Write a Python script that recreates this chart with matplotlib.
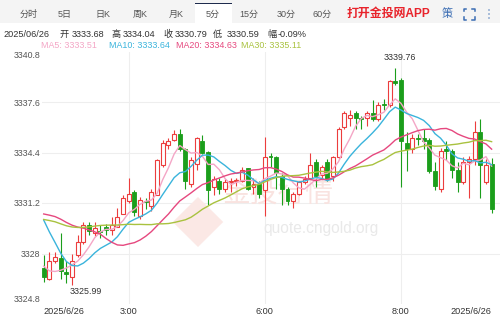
import matplotlib
matplotlib.use("Agg")
import matplotlib.pyplot as plt
import numpy as np
from matplotlib.patches import Rectangle, Polygon

plt.rcParams['font.family'] = ['Liberation Sans', 'Noto Sans CJK SC', 'DejaVu Sans']

W, H = 500, 315

# ---------------- data ----------------
opens = [3327.1, 3326.4, 3327.5, 3327.7, 3326.8, 3326.5, 3327.9, 3328.7, 3329.8, 3329.3,
         3329.4, 3329.7, 3329.5, 3329.7, 3330.5, 3331.3, 3331.9, 3330.4, 3331.3, 3331.0,
         3331.7, 3333.6, 3334.9, 3335.2, 3335.6, 3334.6, 3332.4, 3333.7, 3335.1, 3334.4,
         3332.2, 3332.6, 3332.1, 3332.5, 3332.6, 3332.6, 3333.4, 3332.2, 3332.4, 3332.0,
         3334.2, 3334.1, 3332.9, 3332.1, 3331.3, 3331.8, 3332.5, 3332.8, 3333.8, 3333.0,
         3333.8, 3332.9, 3334.1, 3336.0, 3336.6, 3336.9, 3336.6, 3336.6, 3336.9, 3336.5,
         3337.5, 3337.4, 3338.9, 3339.0, 3335.0, 3334.6, 3335.3, 3335.3, 3335.2, 3333.2,
         3332.1, 3334.6, 3334.5, 3333.3, 3332.5, 3333.8, 3334.0, 3335.7, 3332.5, 3333.68]
highs = [3327.9, 3328.1, 3328.1, 3329.3, 3327.5, 3328.0, 3329.2, 3330.0, 3330.0, 3330.0,
         3329.8, 3329.9, 3330.3, 3330.9, 3331.7, 3332.8, 3332.0, 3331.6, 3331.5, 3332.1,
         3334.0, 3335.2, 3335.3, 3335.8, 3335.9, 3334.7, 3334.1, 3335.4, 3335.5, 3334.5,
         3332.9, 3332.8, 3332.7, 3332.8, 3332.8, 3333.5, 3333.4, 3332.8, 3332.6, 3335.4,
         3334.4, 3334.2, 3333.1, 3332.2, 3331.9, 3332.6, 3332.9, 3334.4, 3334.0, 3333.6,
         3334.0, 3334.2, 3336.0, 3337.0, 3337.1, 3337.0, 3336.7, 3337.0, 3337.7, 3337.6,
         3337.8, 3339.0, 3339.76, 3339.1, 3335.7, 3335.6, 3335.6, 3335.9, 3335.3, 3333.8,
         3334.7, 3335.1, 3334.6, 3333.8, 3334.1, 3334.2, 3336.4, 3336.5, 3334.0, 3334.04]
lows = [3326.2, 3326.3, 3327.4, 3326.4, 3326.1, 3325.99, 3327.8, 3328.6, 3329.2, 3329.1,
        3329.0, 3329.2, 3329.2, 3329.7, 3330.5, 3331.2, 3330.4, 3330.2, 3330.8, 3330.7,
        3331.7, 3333.5, 3334.6, 3335.1, 3334.5, 3332.1, 3332.2, 3333.3, 3334.3, 3331.1,
        3331.7, 3331.8, 3331.9, 3331.9, 3332.3, 3332.5, 3332.0, 3331.8, 3331.5, 3330.4,
        3333.5, 3332.1, 3331.1, 3331.1, 3330.9, 3331.7, 3332.4, 3332.7, 3332.2, 3332.7,
        3332.6, 3332.6, 3334.0, 3335.9, 3336.1, 3335.9, 3335.9, 3336.1, 3336.4, 3336.4,
        3337.1, 3337.3, 3338.7, 3332.2, 3333.2, 3334.4, 3334.9, 3334.6, 3333.1, 3332.0,
        3331.9, 3333.9, 3332.8, 3331.9, 3332.4, 3331.5, 3333.6, 3331.5, 3332.4, 3330.59]
closes = [3326.5, 3327.5, 3327.8, 3326.9, 3326.7, 3327.5, 3328.7, 3329.8, 3329.4, 3329.6,
          3329.35, 3329.5, 3329.8, 3330.3, 3331.5, 3331.8, 3330.6, 3331.4, 3331.25, 3331.9,
          3333.9, 3335.0, 3335.1, 3335.6, 3334.6, 3332.6, 3333.9, 3335.3, 3334.4, 3332.0,
          3332.7, 3332.1, 3332.5, 3332.6, 3332.65, 3333.3, 3332.1, 3332.4, 3331.8, 3334.1,
          3334.1, 3333.1, 3332.1, 3331.3, 3331.8, 3332.5, 3332.7, 3333.6, 3332.9, 3333.5,
          3332.7, 3334.1, 3335.9, 3336.9, 3336.8, 3336.6, 3336.55, 3336.9, 3336.5, 3337.4,
          3337.4, 3338.9, 3338.8, 3335.1, 3334.6, 3335.3, 3335.25, 3335.1, 3333.2, 3332.3,
          3334.5, 3334.5, 3333.3, 3332.5, 3333.8, 3334.0, 3335.7, 3333.6, 3333.6, 3330.79]
# closes before the visible window (used only for the moving averages)
prev_closes = [3329.5, 3330.2, 3330.8, 3330.4, 3329.8, 3329.6, 3329.7, 3328.5, 3328.0, 3328.1,
               3329.0, 3329.6, 3330.2, 3330.8, 3331.0, 3331.1, 3331.2, 3331.6, 3332.0, 3332.4,
               3335.0, 3334.5, 3333.7, 3332.0, 3330.0, 3329.0, 3328.0, 3326.5, 3326.0]

ma_periods = [5, 10, 20, 30]
ma_colors = ['#f4a6c6', '#3ab4dc', '#e6487f', '#a9c23f']
ma_labels = ["MA5: 3333.51", "MA10: 3333.64", "MA20: 3334.63", "MA30: 3335.11"]

ytick_values = [3324.8, 3328.0, 3331.2, 3334.4, 3337.6, 3340.8]
ytick_labels = ["3324.8", "3328", "3331.2", "3334.4", "3337.6", "3340.8"]
xtick_pos = [0, 15, 39, 63, 79]
xtick_labels = ["2025/6/26", "3:00", "6:00", "8:00", "2025/6/26"]

tabs = ["分时", "5日", "日K", "周K", "月K", "5分", "15分", "30分", "60分"]
info_tokens = ["2025/06/26", "开", "3333.68", "高", "3334.04", "收", "3330.79", "低", "3330.59", "幅", "-0.09%"]
high_label = "3339.76"
low_label = "3325.99"

RED = '#ec3d3d'
GREEN = '#1b9e1b'

# ---------------- figure ----------------
fig = plt.figure(figsize=(W / 100, H / 100), dpi=100)
fig.patch.set_facecolor('white')


def fx(px):
    return px / W


def fy(py):
    return 1 - py / H


# tab bar
fig.patches.append(Rectangle((0, fy(22.5)), 1, 22.5 / H, transform=fig.transFigure,
                             facecolor='#f4f4f4', edgecolor='none', zorder=0))
fig.patches.append(Rectangle((fx(195), fy(22.5)), 37 / W, 19.5 / H, transform=fig.transFigure,
                             facecolor='white', edgecolor='none', zorder=1))
fig.patches.append(Rectangle((fx(195), fy(4.3)), 37 / W, 1.5 / H, transform=fig.transFigure,
                             facecolor='#1e2b4d', edgecolor='none', zorder=2))
tab_x = [29, 65, 103, 140, 176, 213, 249, 286, 322]
for t, x in zip(tabs, tab_x):
    fig.text(fx(x), fy(14), t, ha='center', va='center', fontsize=6.5,
             color='#555555', zorder=3)
fig.text(fx(388), fy(14), "打开金投网APP", ha='center', va='center', fontsize=8.6,
         fontweight='bold', color='#e8232b', zorder=3)
fig.text(fx(447), fy(14), "策", ha='center', va='center', fontsize=8,
         color='#3b6db3', zorder=3)
# fullscreen icon (corner brackets)
cx, cy, s, k = 469, 14, 5.5, 2.8
for sx in (-1, 1):
    for sy in (-1, 1):
        xs = [cx + sx * s, cx + sx * s, cx + sx * (s - k)]
        ys = [cy + sy * (s - k), cy + sy * s, cy + sy * s]
        fig.lines.append(plt.Line2D([fx(v) for v in xs], [fy(v) for v in ys],
                                    transform=fig.transFigure, color='#3b6db3', lw=1.1))
for dy in (-4, 0, 4):
    fig.patches.append(plt.Circle((fx(489), fy(14 + dy)), 0.9 / W, transform=fig.transFigure,
                                  facecolor='#3b6db3', edgecolor='none'))

# info line
info_x = [3, 60, 72, 111, 123, 163, 175, 213, 227, 267, 278]
for t, x in zip(info_tokens, info_x):
    fig.text(fx(x), fy(34.3), t, ha='left', va='center', fontsize=6.6, color='#333333')
ma_x = [40.7, 109.3, 175.7, 240.7]
for t, x, c in zip(ma_labels, ma_x, ma_colors):
    fig.text(fx(x), fy(45.7), t, ha='left', va='center', fontsize=6.4, color=c)

# ---------------- axes ----------------
ax_left, ax_right, ax_top, ax_bottom = 42, 500, 51.5, 304
ax = fig.add_axes([fx(ax_left), fy(ax_bottom), (ax_right - ax_left) / W, (ax_bottom - ax_top) / H])
ax.set_facecolor('none')
step = 5.67
x0 = 43.7
ax.set_xlim((ax_left - x0) / step, (ax_right - x0) / step)
ax.set_ylim(ytick_values[0], ytick_values[-1])
for sp in ax.spines.values():
    sp.set_visible(False)

# grid
for v in ytick_values[1:-1]:
    ax.axhline(v, color='#eeeeee', lw=0.8, zorder=0)
for p in xtick_pos[1:-1]:
    ax.axvline(p, color='#eeeeee', lw=0.8, zorder=0)

# watermark
ax.text(0.514, 0.438, "金投行情", transform=ax.transAxes, ha='center', va='center',
        fontsize=20, color='#f9e3e0', zorder=0.5, family=['Noto Sans CJK SC'])
ax.text(0.484, 0.300, "quote.cngold.org", transform=ax.transAxes, ha='left', va='center',
        fontsize=11.2, color='#e9e9e9', zorder=0.5)
dx, dyc, r = (198 - ax_left) / (ax_right - ax_left), (ax_bottom - 222) / (ax_bottom - ax_top), 0.055
ax.add_patch(Polygon([[dx - r, dyc], [dx, dyc + r * 1.8], [dx + r, dyc], [dx, dyc - r * 1.8]],
                     closed=True, transform=ax.transAxes, facecolor='#fbe8e5',
                     edgecolor='none', zorder=0.4))

# candles
o = np.array(opens)
h = np.array(highs)
l = np.array(lows)
c = np.array(closes)
idx = np.arange(len(c))
up = c >= o
bw = 0.7
top = np.maximum(o, c)
bot = np.minimum(o, c)
for i in idx:
    col = RED if up[i] else GREEN
    if up[i]:
        ax.vlines(i, top[i], h[i], color=col, lw=0.8, zorder=2)
        ax.vlines(i, l[i], bot[i], color=col, lw=0.8, zorder=2)
    else:
        ax.vlines(i, l[i], h[i], color=col, lw=0.8, zorder=2)
ax.bar(idx[up], (top - bot)[up], bottom=bot[up], width=bw, facecolor='white',
       edgecolor=RED, linewidth=0.8, zorder=3)
ax.bar(idx[~up], np.maximum((top - bot)[~up], 0.04), bottom=bot[~up], width=bw,
       facecolor=GREEN, edgecolor=GREEN, linewidth=0.6, zorder=3)

# moving averages
all_c = np.array(prev_closes + closes)
npre = len(prev_closes)
for n, col in zip(ma_periods, ma_colors):
    ma = np.array([all_c[npre + i - n + 1: npre + i + 1].mean() for i in idx])
    ax.plot(idx, ma, color=col, lw=1.0, zorder=4)

# high / low labels
hi = int(np.argmax(h))
lo = int(np.argmin(l))
ax.annotate(high_label, (hi, h[hi]), xytext=(3, 4), textcoords='offset points',
            ha='center', va='bottom', fontsize=6.4, color='#333333', zorder=5)
ax.annotate(low_label, (lo, l[lo]), xytext=(-2, -1.5), textcoords='offset points',
            ha='left', va='top', fontsize=6.4, color='#333333', zorder=5)

# ticks
ax.set_yticks(ytick_values)
ax.set_yticklabels(ytick_labels)
ax.tick_params(axis='y', length=0, pad=1, labelsize=6.3, labelcolor='#555555')
yl = ax.get_yticklabels()
yl[0].set_va('bottom')
yl[-1].set_va('top')
ax.set_xticks(xtick_pos)
ax.set_xticklabels(xtick_labels)
ax.tick_params(axis='x', length=0, pad=2, labelsize=6.6, labelcolor='#333333')
xl = ax.get_xticklabels()
xl[0].set_ha('left')
xl[-1].set_ha('right')
ax.grid(False)

fig.savefig("out.png", dpi=100, facecolor='white')
